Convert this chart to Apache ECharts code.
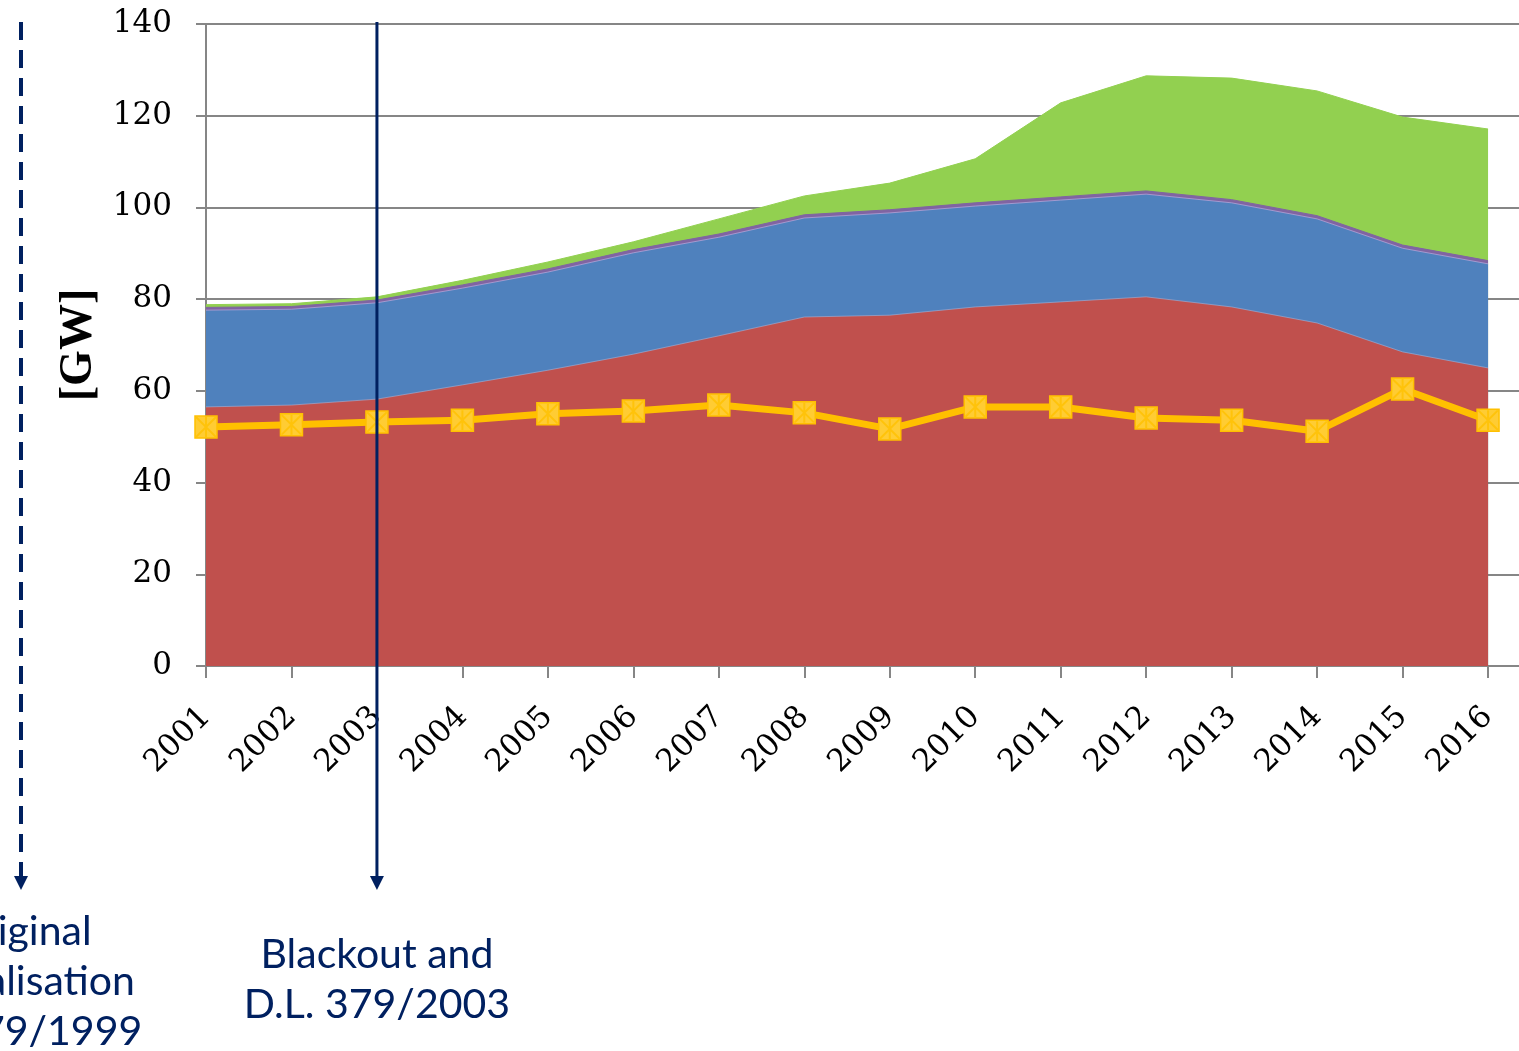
<!DOCTYPE html>
<html><head><meta charset="utf-8">
<script src="https://cdn.jsdelivr.net/npm/echarts@6/dist/echarts.min.js"></script>
<style>html,body{margin:0;padding:0;background:#fff}#c{width:1519px;height:1051px}</style>
</head><body><div id="c"></div>
<script>
const years = [2001,2002,2003,2004,2005,2006,2007,2008,2009,2010,2011,2012,2013,2014,2015,2016];
const thermal = [56.5,56.9,58.2,61.3,64.5,68.0,72.0,76.1,76.5,78.3,79.4,80.5,78.3,74.8,68.5,65.0];
const hydro = [21.1,20.9,21.0,21.1,21.4,22.1,21.5,21.6,22.3,22.0,22.2,22.4,22.7,22.7,22.6,22.7];
const geothermal = [0.6,0.6,0.6,0.7,0.7,0.7,0.7,0.7,0.7,0.7,0.7,0.7,0.7,0.7,0.7,0.7];
const windSolar = [0.6,0.6,0.7,1.0,1.5,1.7,3.3,4.1,5.8,9.6,20.5,25.1,26.5,27.2,27.9,28.7];
const peakDemand = [52.1,52.6,53.2,53.6,55.0,55.6,56.9,55.2,51.7,56.5,56.5,54.1,53.6,51.2,60.4,53.6];
const yTicks = [0,20,40,60,80,100,120,140];

const chart = echarts.init(document.getElementById('c'), null, {renderer:'canvas'});
const gray = '#868686';
const navy = '#002060';
const crossPath = 'path://M9,0 L11,0 L11,20 L9,20 Z M0,0 L1.4,0 L20,18.6 L20,20 L18.6,20 L0,1.4 Z M20,0 L20,1.4 L1.4,20 L0,20 L0,18.6 L18.6,0 Z';

// stacked layers (cumulative sums of the named arrays)
const layers = [
  {name:'Thermal', data:thermal, color:'#C0504D', edge:'rgba(160,180,220,0.6)'},
  {name:'Hydro', data:hydro, color:'#4F81BD', edge:'rgba(190,170,220,0.7)'},
  {name:'Geothermal', data:geothermal, color:'#8064A2', edge:'rgba(128,100,162,1)'},
  {name:'Wind and solar', data:windSolar, color:'#92D050', edge:'rgba(146,208,80,1)'}
];
const running = years.map(()=>0);
layers.forEach(l=>{ l.cum = l.data.map((v,i)=> (running[i] = +(running[i]+v).toFixed(3))); });

const areaSeries = layers.slice().reverse().map(l=>({
  name:l.name, type:'line', data:years.map((y,i)=>[y,l.cum[i]]), symbol:'none',
  lineStyle:{width:1,color:l.edge}, areaStyle:{color:l.color,opacity:1},
  itemStyle:{color:l.color}, z:2
}));

chart.setOption({
  animation:false,
  grid:{left:206,right:0,top:24,bottom:385},
  xAxis:{type:'value',min:2001,max:2016.362,interval:1,
    splitLine:{show:false},
    axisLine:{onZero:false,lineStyle:{color:gray,width:2}},
    axisTick:{length:12,lineStyle:{color:gray,width:2}},
    axisLabel:{rotate:45,margin:46,fontFamily:'DejaVu Serif',fontSize:31,color:'#000',
      showMaxLabel:false,
      formatter:v=> (Math.abs(v-Math.round(v))<1e-6 && years.indexOf(Math.round(v))>=0) ? String(Math.round(v)) : ''}
  },
  yAxis:{type:'value',min:yTicks[0],max:yTicks[yTicks.length-1],interval:20,
    name:'[GW]',nameLocation:'middle',nameGap:104,nameRotate:90,
    nameTextStyle:{fontFamily:'Liberation Serif',fontWeight:'bold',fontSize:46,color:'#000'},
    splitLine:{lineStyle:{color:gray,width:2}},
    axisLine:{show:true,lineStyle:{color:gray,width:2}},
    axisTick:{show:true,length:10,lineStyle:{color:gray,width:2}},
    axisLabel:{margin:34,fontFamily:'DejaVu Serif',fontSize:31,color:'#000'}
  },
  series:areaSeries.concat([
    {name:'Peak demand',type:'line',data:years.map((y,i)=>[y,peakDemand[i]]),symbol:'rect',symbolSize:22,
      lineStyle:{color:'#FFC000',width:7},
      itemStyle:{color:'#FFCC33',borderColor:'#FFC000',borderWidth:1.5},z:5},
    {name:'Peak demand marker',type:'scatter',data:years.map((y,i)=>[y,peakDemand[i]]),symbol:crossPath,symbolSize:20,
      itemStyle:{color:'#FFC000'},z:6,silent:true}
  ])
});

const p2003 = chart.convertToPixel({xAxisIndex:0,yAxisIndex:0},[2003,140]);
const xs = p2003[0];
const xd = 21;
const lineTop = 22, lineEnd = 876, tip = 890;
chart.setOption({graphic:[
  {type:'line',z:100,shape:{x1:xd,y1:lineTop,x2:xd,y2:lineEnd},style:{stroke:navy,lineWidth:4,lineDash:[18,10]}},
  {type:'polygon',z:100,shape:{points:[[xd-7,lineEnd],[xd+7,lineEnd],[xd,tip]]},style:{fill:navy}},
  {type:'line',z:100,shape:{x1:xs,y1:lineTop,x2:xs,y2:lineEnd},style:{stroke:navy,lineWidth:3}},
  {type:'polygon',z:100,shape:{points:[[xs-7,lineEnd],[xs+7,lineEnd],[xs,tip]]},style:{fill:navy}},
  {type:'text',z:100,x:xs,y:980,style:{text:'Blackout and\nD.L. 379/2003',font:'41px Lato',fill:navy,align:'center',verticalAlign:'middle',lineHeight:50}},
  {type:'text',z:100,x:xd,y:982,style:{text:'Original\nliberalisation\nD.L. 79/1999',font:'41px Lato',fill:navy,align:'center',verticalAlign:'middle',lineHeight:50}}
]});
</script></body></html>
